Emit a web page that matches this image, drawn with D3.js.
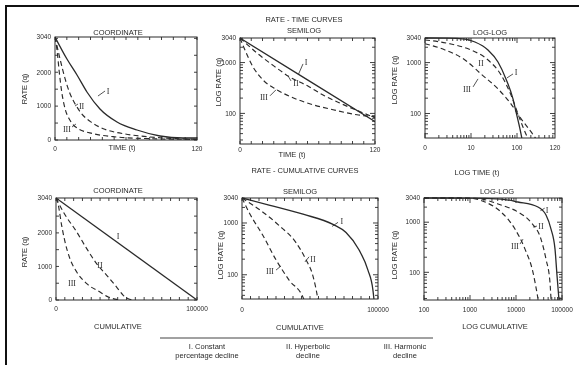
<!DOCTYPE html>
<html><head><meta charset="utf-8">
<script src="https://cdn.jsdelivr.net/npm/d3@7"></script>
<style>body{margin:0;background:#fff}svg{display:block;filter:grayscale(1)}</style>
</head><body>
<svg id="c" width="579" height="365"><g id="root"></g></svg>
<script>
// ---------- DATA ----------
// Rate-time, coordinate
const rtcI_t   = [0,10.1,18.6,27,38,52.4,69.3,88.7,108,120];
const rtcI_q   = [3040,2390,1918,1417,915,531,295,118,59,59];
const rtcII_t  = [0,4.2,8.5,12.7,16.9,22.5,29.6,40.8,57.7,80.3,102.8,120];
const rtcII_q  = [3040,2399,1810,1367,1072,777,551,334,187,89,39,20];
const rtcIII_t = [0,1.9,3.6,5.7,8.5,12.7,19.7,32.4,52.1,80.3,116.9,120];
const rtcIII_q = [3040,2597,2007,1416,925,580,334,187,89,39,20,20];
// Rate-time, semilog
const rtsI_t   = [0,60,120];
const rtsI_q   = [3040,456,69];
const rtsII_t  = [0,15,30,44,60,75,90,105,120];
const rtsII_q  = [3040,1545,859,523,348,222,155,112,82];
const rtsIII_t = [0,4.4,11.6,20.4,32.9,47.1,64.9,82.7,104,120];
const rtsIII_q = [3040,1770,820,456,290,203,148,118,94,86];
// Rate-time, log-log
const rtlI_t   = [1,3,7.4,12.2,23.4,38.6,57.6,81.8,95.2,116,128,140];
const rtlI_q   = [3040,3020,2900,2540,1770,1028,478,194,108,50,32,20];
const rtlII_t  = [1,3.67,10,23.4,44.9,73.8,105,134,174,200];
const rtlII_q  = [2780,2320,1770,1127,573,232,98,55,32,25];
const rtlIII_t = [1,2.72,7.4,16.5,38.6,73.8,122,201,258,300];
const rtlIII_q = [2350,1770,1127,598,304,155,79,44,32,28];
// Rate-cumulative, coordinate
const rccI_n   = [0,100000];
const rccI_q   = [3040,0];
const rccII_n  = [0,5200,14700,21800,28800,36000,43000,47700,53700];
const rccII_q  = [3040,2623,2027,1530,1083,735,387,140,0];
const rccIII_n = [0,1650,4000,6400,9900,14700,21800,31200,37100,44000];
const rccIII_q = [3040,2822,2226,1729,1231,835,486,238,89,10];
// Rate-cumulative, semilog
const rcsI_n   = [0,19900,44900,66900,76500,86000,92600,96300,97100,97500];
const rcsI_q   = [3040,2218,1476,940,655,304,123,50,32,25];
const rcsII_n  = [0,15400,27200,39700,47100,52200,55900,56500];
const rcsII_q  = [3040,1616,900,417,194,94,32,25];
const rcsIII_n = [0,5100,15400,25000,34600,45600,46500];
const rcsIII_q = [3040,1616,573,194,79,33,28];
// Rate-cumulative, log-log
const rclI_n   = [100,1000,4720,11000,30000,44900,57700,70500,77800,86000];
const rclI_q   = [3040,3030,2900,2530,2010,1390,730,290,88,28];
const rclII_n  = [100,1285,4720,11000,21000,34900,44900,54700,57700];
const rclII_q  = [3040,3000,2200,1600,1000,460,183,64,29];
const rclIII_n = [100,1000,2120,4720,9500,15700,23400,30000];
const rclIII_q = [3040,3000,2530,1600,730,290,100,30];
// Tick labels
const rateLinLabels = [0,1000,2000,3040];
const rateLogLabels = [100,1000,3040];
const timeLinLabels = [0,120];
const timeLogLabelVals = [1,10,100,670];
const timeLogLabelText = ["0","10","100","120"];
const cumLinLabels = [0,100000];
const cumLogLabels = [100,1000,10000,100000];
const legendItems = [["I. Constant","percentage decline"],["II. Hyperbolic","decline"],["III. Harmonic","decline"]];

// ---------- DRAWING ----------
const FONT = "'Liberation Sans', Arial, Helvetica, sans-serif";
const INK = "#2a2a2a";
const svg = d3.select('#root');
svg.append('rect').attr('x',0).attr('y',0).attr('width',579).attr('height',365).attr('fill','#fff');
svg.append('rect').attr('x',6).attr('y',6).attr('width',700).attr('height',500)
  .attr('fill','none').attr('stroke','#111').attr('stroke-width',2);

function mk(type, dom, range){ return (type==='log'? d3.scaleLog(): d3.scaleLinear()).domain(dom).range(range); }
function txt(x,y,s,size,anchor){
  return svg.append('text').attr('x',x).attr('y',y).text(s)
    .attr('font-family',FONT).attr('font-size',size).attr('fill',INK)
    .attr('text-anchor',anchor||'middle');
}

const panels = [
 {x0:55,x1:197,y0:37,y1:140, xt:'lin',xd:[0,120], yt:'lin',yd:[0,3040],
  xticks:d3.range(0,121,10), yticks:d3.range(0,3001,500),
  xl:timeLinLabels, xlt:null, yl:rateLinLabels, xpad:6,
  series:[[rtcI_t,rtcI_q,1],[rtcII_t,rtcII_q,0],[rtcIII_t,rtcIII_q,0]],
  labels:[["I",44.8,1446,[36.3,1298,42.3,1446]],["II",22.5,1003,[16.9,1003,19.4,1062]],["III",10.1,325,[14.4,384,17.7,472]]]},
 {x0:240,x1:375,y0:38,y1:144, xt:'lin',xd:[0,120], yt:'log',yd:[25,3040],
  xticks:d3.range(0,121,10),
  xl:timeLinLabels, xlt:null, yl:rateLogLabels, xpad:3,
  series:[[rtsI_t,rtsI_q,1],[rtsII_t,rtsII_q,0],[rtsIII_t,rtsIII_q,0]],
  labels:[["I",58.7,1029,[52,590,56,940]],["II",49.8,399,[45.3,436,42.7,547]],["III",21.3,212,[26.7,222,32,291]]]},
 {x0:425,x1:555,y0:38,y1:138, xt:'log',xd:[1,670], yt:'log',yd:[33,3040],
  xl:timeLogLabelVals, xlt:timeLogLabelText, yl:rateLogLabels, xpad:7,
  series:[[rtlI_t,rtlI_q,1],[rtlII_t,rtlII_q,0],[rtlIII_t,rtlIII_q,0]],
  labels:[["I",95,655,[60.6,500,81.9,598]],["II",16.5,984,null],["III",8.2,304,[11.1,333,14.2,478]]]},
 {x0:56,x1:197,y0:198,y1:300, xt:'lin',xd:[0,100000], yt:'lin',yd:[0,3040],
  xticks:d3.range(0,100001,6250), yticks:d3.range(0,3001,500),
  xl:cumLinLabels, xlt:null, yl:rateLinLabels, xpad:6,
  series:[[rccI_n,rccI_q,1],[rccII_n,rccII_q,0],[rccIII_n,rccIII_q,0]],
  labels:[["I",44000,1907,null],["II",31200,1043,null],["III",11350,507,null]]},
 {x0:242,x1:378,y0:198,y1:299, xt:'lin',xd:[0,100000], yt:'log',yd:[34,3040],
  xticks:d3.range(0,100001,6250),
  xl:cumLinLabels, xlt:null, yl:rateLogLabels, xpad:8,
  series:[[rcsI_n,rcsI_q,1],[rcsII_n,rcsII_q,0],[rcsIII_n,rcsIII_q,0]],
  labels:[["I",73500,1076,[66200,859,70600,1029]],["II",52200,203,[46300,177,49300,222]],["III",20600,118,[25000,123,28700,148]]]},
 {x0:424,x1:562,y0:198,y1:300, xt:'log',xd:[100,100000], yt:'log',yd:[28,3040],
  xl:cumLogLabels, xlt:null, yl:rateLogLabels, xpad:7,
  series:[[rclI_n,rclI_q,1],[rclII_n,rclII_q,0],[rclIII_n,rclIII_q,0]],
  labels:[["I",47200,1750,[34000,1700,42000,1900]],["II",34900,837,[23400,800,28600,837]],["III",9500,333,[12200,366,14200,460]]]}
];

panels.forEach((p,idx)=>{
  const x = mk(p.xt,p.xd,[p.x0,p.x1]);
  const y = mk(p.yt,p.yd,[p.y1,p.y0]);
  const cid = 'clip'+idx;
  d3.select('#c').append('clipPath').attr('id',cid).append('rect')
    .attr('x',p.x0).attr('y',p.y0-1).attr('width',p.x1-p.x0).attr('height',p.y1-p.y0+1);
  const g = svg.append('g');
  p.series.forEach(([xs,ys,solid])=>{
    const pts = xs.map((v,i)=>[v,ys[i]]);
    const line = d3.line().x(d=>x(d[0])).y(d=>y(p.yt==='log'?Math.max(d[1],5):d[1])).curve(d3.curveMonotoneX);
    g.append('path').attr('d',line(pts)).attr('clip-path',`url(#${cid})`)
      .attr('fill','none').attr('stroke',INK)
      .attr('stroke-width',solid?1.3:1.15)
      .attr('stroke-dasharray',solid?null:'5,3.2');
  });
  g.append('rect').attr('x',p.x0).attr('y',p.y0).attr('width',p.x1-p.x0).attr('height',p.y1-p.y0)
    .attr('fill','none').attr('stroke',INK).attr('stroke-width',1);
  function tickSet(scale,type,vals){
    if(type==='log'){
      const d = scale.domain();
      const all = scale.ticks().filter(v=>v>=d[0]&&v<=d[1]);
      return all.map(v=>[v, Math.abs(Math.log10(v)-Math.round(Math.log10(v)))<1e-9 ? 5:3]);
    }
    return vals.map(v=>[v,3]);
  }
  const xt = tickSet(x,p.xt,p.xticks||[]);
  const yt = tickSet(y,p.yt,p.yticks||[]);
  const tg = g.append('g').attr('stroke',INK).attr('stroke-width',0.9);
  xt.forEach(([v,L])=>{
    const px = x(v);
    tg.append('line').attr('x1',px).attr('x2',px).attr('y1',p.y1).attr('y2',p.y1-L);
    tg.append('line').attr('x1',px).attr('x2',px).attr('y1',p.y0).attr('y2',p.y0+L);
  });
  yt.forEach(([v,L])=>{
    const py = y(v);
    tg.append('line').attr('y1',py).attr('y2',py).attr('x1',p.x0).attr('x2',p.x0+L);
    tg.append('line').attr('y1',py).attr('y2',py).attr('x1',p.x1).attr('x2',p.x1-L);
  });
  p.xl.forEach((v,i)=>{
    const s = p.xlt? p.xlt[i] : String(v);
    txt(x(v), p.y1+p.xpad+5, s, 6.5, 'middle');
  });
  p.yl.forEach(v=>{
    txt(p.x0-4, y(v)+2.3, String(v), 6.5, 'end');
  });
  p.labels.forEach(([s,lx,ly,ld])=>{
    txt(x(lx), y(ly)+3, s, 8, 'middle').attr('font-family',"'Liberation Serif', 'Times New Roman', serif");
    if(ld){
      g.append('line').attr('x1',x(ld[0])).attr('y1',y(ld[1])).attr('x2',x(ld[2])).attr('y2',y(ld[3]))
        .attr('stroke',INK).attr('stroke-width',0.8);
    }
  });
});

txt(118,35,'COORDINATE',7.5);
txt(304,22,'RATE - TIME CURVES',7.5);
txt(304,33,'SEMILOG',7.5);
txt(490,35,'LOG-LOG',7.5);
txt(305,173,'RATE - CUMULATIVE CURVES',7.5);
txt(118,193,'COORDINATE',7.5);
txt(300,194,'SEMILOG',7.5);
txt(497,194,'LOG-LOG',7.5);

txt(122,150,'TIME (t)',7.5);
txt(292,157,'TIME (t)',7.5);
txt(477,175,'LOG TIME (t)',7.5);
txt(118,329,'CUMULATIVE',7.5);
txt(300,330,'CUMULATIVE',7.5);
txt(495,329,'LOG CUMULATIVE',7.5);

function vtxt(x,y,s){
  svg.append('text').attr('transform',`translate(${x},${y}) rotate(-90)`).text(s)
    .attr('font-family',FONT).attr('font-size',7.5).attr('fill',INK).attr('text-anchor','middle');
}
vtxt(27,89,'RATE (q)');
vtxt(221,82,'LOG RATE (q)');
vtxt(397,80,'LOG RATE (q)');
vtxt(27,252,'RATE (q)');
vtxt(223,255,'LOG RATE (q)');
vtxt(397,255,'LOG RATE (q)');

svg.append('line').attr('x1',160).attr('x2',433).attr('y1',338).attr('y2',338)
  .attr('stroke','#444').attr('stroke-width',1);
const legX = [207,308,405];
legendItems.forEach((it,i)=>{
  txt(legX[i],349,it[0],7.5);
  txt(legX[i],358,it[1],7.5);
});
</script>
</body></html>
